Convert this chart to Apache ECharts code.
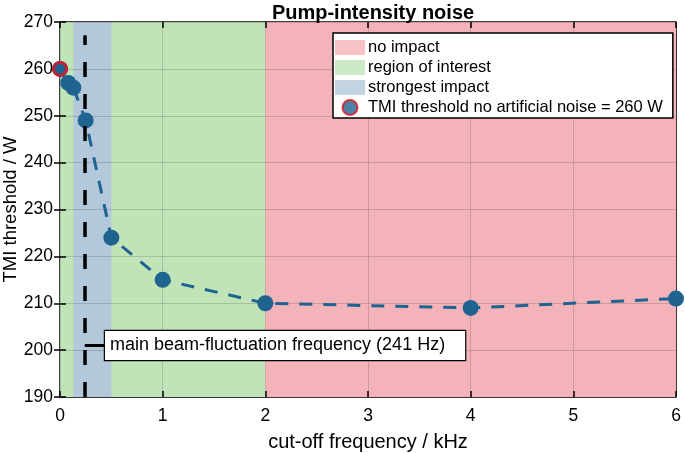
<!DOCTYPE html>
<html><head><meta charset="utf-8">
<script src="https://cdn.jsdelivr.net/npm/echarts@6/dist/echarts.min.js"></script>
<style>html,body{margin:0;padding:0;background:#fff}#c{width:685px;height:453px}</style>
</head><body><div id="c"></div>
<script>
var freqKHz = [0, 0.08, 0.13, 0.25, 0.5, 1, 2, 4, 6];
var thresholdW = [260, 257, 256, 249, 224, 215, 210, 209, 211];
var baselinePoint = [0, 260];
var regionNoImpact = [2, 6];
var regionInterest = [0, 2];
var regionStrongest = [0.13, 0.5];
var beamFreqKHz = 0.241;
var annotationY = 201;
var annotationEndX = 0.438;
var xTicks = [0, 1, 2, 3, 4, 5, 6];
var yTicks = [190, 200, 210, 220, 230, 240, 250, 260, 270];

var FONT = 'Liberation Sans, Arial, sans-serif';
var cPink = '#f4b3b8', cGreen = '#c0e3b8', cBlue = '#b3c8da', cMark = '#1f6391';

function regionSeries(name, color, range) {
  return {
    name: name, type: 'scatter', data: [], z: 1,
    itemStyle: { color: color },
    markArea: { silent: true, itemStyle: { color: color, opacity: 1 },
      data: [[{ xAxis: range[0], yAxis: yTicks[0] }, { xAxis: range[1], yAxis: yTicks[yTicks.length - 1] }]] }
  };
}
var tickStyle = { show: true, inside: true, length: 6, lineStyle: { color: '#000', width: 1.5 } };

var chart = echarts.init(document.getElementById('c'), null, { renderer: 'canvas' });
chart.setOption({
  animation: false,
  title: { text: 'Pump-intensity noise', left: 368, top: -2, textAlign: 'center',
    textStyle: { fontFamily: FONT, fontSize: 20, fontWeight: 'bold', color: '#000' } },
  grid: { left: 60, right: 9, top: 22, bottom: 56, containLabel: false, outerBoundsMode: 'none',
    show: true, borderColor: '#000', borderWidth: 1.5, backgroundColor: 'transparent' },
  legend: {
    orient: 'vertical', left: 333, top: 33,
    backgroundColor: '#fff', borderColor: '#000', borderWidth: 1.5,
    padding: [6, 10, 2, 2], itemGap: 3, itemWidth: 30, itemHeight: 15,
    textStyle: { fontFamily: FONT, fontSize: 16.5, color: '#000', padding: [0, 0, 0, -2] },
    data: [
      { name: 'no impact', icon: 'rect' },
      { name: 'region of interest', icon: 'rect' },
      { name: 'strongest impact', icon: 'rect' },
      { name: 'TMI threshold no artificial noise = 260 W', icon: 'circle' }
    ]
  },
  xAxis: [
    { type: 'value', min: xTicks[0], max: xTicks[xTicks.length - 1], interval: 1, z: 1.5,
      name: 'cut-off frequency / kHz', nameLocation: 'middle', nameGap: 35, nameMoveOverlap: false,
      nameTextStyle: { fontFamily: FONT, fontSize: 20, color: '#000' },
      axisLine: { show: false }, axisTick: tickStyle,
      axisLabel: { fontFamily: FONT, fontSize: 17.5, color: '#000', margin: 10 },
      splitLine: { show: true, lineStyle: { color: 'rgba(0,0,0,0.15)', width: 1 } } },
    { type: 'value', position: 'top', min: xTicks[0], max: xTicks[xTicks.length - 1], interval: 1, z: 1.5,
      axisLine: { show: false }, axisTick: tickStyle,
      axisLabel: { show: false }, splitLine: { show: false } }
  ],
  yAxis: [
    { type: 'value', min: yTicks[0], max: yTicks[yTicks.length - 1], interval: 10, z: 1.5,
      name: 'TMI threshold / W', nameLocation: 'middle', nameGap: 40, nameMoveOverlap: false,
      nameTextStyle: { fontFamily: FONT, fontSize: 18.5, color: '#000' },
      axisLine: { show: false }, axisTick: tickStyle,
      axisLabel: { fontFamily: FONT, fontSize: 17.5, color: '#000', margin: 7 },
      splitLine: { show: true, lineStyle: { color: 'rgba(0,0,0,0.15)', width: 1 } } },
    { type: 'value', position: 'right', min: yTicks[0], max: yTicks[yTicks.length - 1], interval: 10, z: 1.5,
      axisLine: { show: false }, axisTick: tickStyle,
      axisLabel: { show: false }, splitLine: { show: false } }
  ],
  series: [
    regionSeries('region of interest', cGreen, regionInterest),
    regionSeries('no impact', cPink, regionNoImpact),
    regionSeries('strongest impact', cBlue, regionStrongest),
    {
      name: 'beam', type: 'line', data: [], z: 2.5,
      markLine: { silent: true, symbol: 'none', animation: false,
        data: [
          [{ coord: [beamFreqKHz, yTicks[0]], lineStyle: { color: '#000', width: 3.5, type: [15, 17] }, label: { show: false } },
           { coord: [beamFreqKHz, 267.2] }],
          [{ coord: [beamFreqKHz, annotationY], lineStyle: { color: '#000', width: 3, type: 'solid' },
             label: { show: true, position: 'end', distance: 0, formatter: 'main beam-fluctuation frequency (241 Hz)',
               fontFamily: FONT, fontSize: 18, color: '#000', backgroundColor: '#fff', borderColor: '#000', borderWidth: 1.2,
               padding: [6, 20, 5, 5] } },
           { coord: [annotationEndX, annotationY] }]
        ] }
    },
    {
      name: 'data', type: 'line', z: 3,
      data: freqKHz.map(function (f, i) { return [f, thresholdW[i]]; }),
      symbol: 'circle', symbolSize: 16,
      itemStyle: { color: cMark },
      lineStyle: { color: cMark, width: 3, type: [13, 11] }
    },
    {
      name: 'TMI threshold no artificial noise = 260 W', type: 'scatter', z: 4,
      data: [baselinePoint], symbol: 'circle', symbolSize: 13,
      itemStyle: { color: cMark, borderColor: '#e8101c', borderWidth: 3 }
    }
  ]
});
</script></body></html>
